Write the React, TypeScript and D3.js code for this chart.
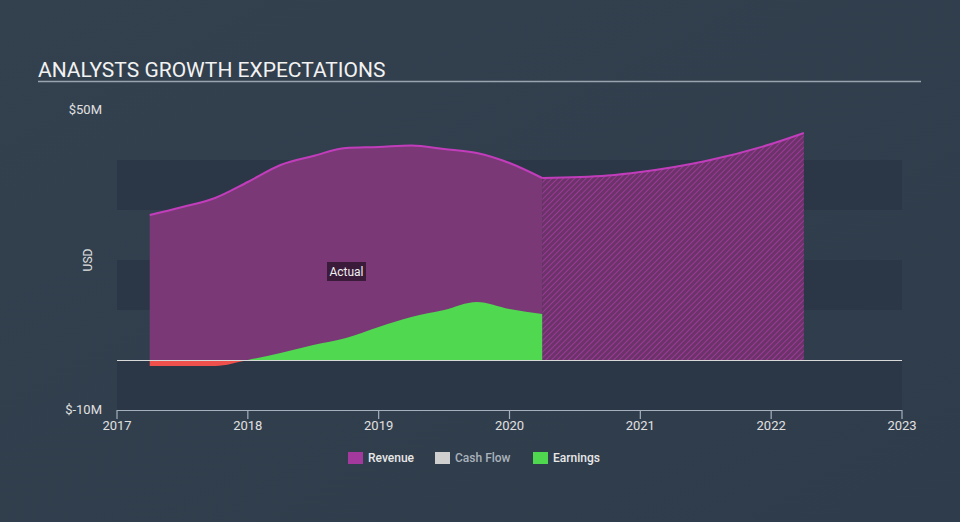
import React from "react";
import * as d3 from "d3";

const revenueYears = [2017.25, 2017.5, 2017.75, 2018, 2018.25, 2018.5, 2018.75, 2019, 2019.25, 2019.5, 2019.75, 2020, 2020.25];
const revenueValues = [29, 30.6, 32.4, 35.6, 39, 40.8, 42.4, 42.6, 42.9, 42.2, 41.4, 39.4, 36.4];
const forecastYears = [2020.25, 2020.75, 2021, 2021.5, 2022, 2022.25];
const forecastValues = [36.4, 36.9, 37.6, 39.8, 43.2, 45.4];
const earningsYears = [2017.25, 2017.5, 2017.75, 2018, 2018.25, 2018.5, 2018.75, 2019, 2019.25, 2019.5, 2019.75, 2020, 2020.25];
const earningsValues = [-1.2, -1.2, -1.2, 0, 1.4, 3, 4.4, 6.6, 8.6, 10, 11.6, 10.2, 9.2];
const xTicks = [2017, 2018, 2019, 2020, 2021, 2022, 2023];
const yTickLabels = [{ v: 50, t: "$50M" }, { v: -10, t: "$-10M" }];
const bands = [[40, 30], [20, 10], [0, -10]];
const legendItems = [
  { name: "Revenue", color: "#a3399d", text: "#e8e8e8" },
  { name: "Cash Flow", color: "#cfcfcf", text: "#aab2bb" },
  { name: "Earnings", color: "#4fd84f", text: "#e8e8e8" },
];

export default function App() {
  const W = 960, H = 522;
  const x = d3.scaleLinear().domain([2017, 2023]).range([117, 902]);
  const y = d3.scaleLinear().domain([-10, 50]).range([410, 110]);
  const curve = d3.curveMonotoneX;
  const rev = revenueYears.map((yr, i) => [yr, revenueValues[i]] as [number, number]);
  const fc = forecastYears.map((yr, i) => [yr, forecastValues[i]] as [number, number]);
  const earn = earningsYears.map((yr, i) => [yr, earningsValues[i]] as [number, number]);
  const area = d3.area<[number, number]>().x(d => x(d[0])).y0(y(0)).y1(d => y(d[1])).curve(curve);
  const line = d3.line<[number, number]>().x(d => x(d[0])).y(d => y(d[1])).curve(curve);
  const font = "Roboto, 'Open Sans', sans-serif";
  const legendX = [348, 435, 533];

  return (
    <svg width={W} height={H} style={{ position: "absolute", left: 0, top: 0 }} fontFamily={font}>
      <defs>
        <linearGradient id="bg" x1="0" y1="0" x2="1" y2="1">
          <stop offset="0" stopColor="#33414f" />
          <stop offset="1" stopColor="#2f3c4b" />
        </linearGradient>
        <pattern id="hatch" width="4" height="4" patternUnits="userSpaceOnUse" patternTransform="rotate(45)">
          <rect width="4" height="4" fill="#6b3369" />
          <line x1="0" y1="0" x2="0" y2="4" stroke="#a93aa3" strokeWidth="1.6" />
        </pattern>
        <clipPath id="above"><rect x={0} y={0} width={W} height={y(0)} /></clipPath>
        <clipPath id="below"><rect x={0} y={y(0)} width={W} height={H} /></clipPath>
      </defs>
      <rect width={W} height={H} fill="url(#bg)" />
      <text x={38} y={77} fontSize={21} fill="#f2f2f2">ANALYSTS GROWTH EXPECTATIONS</text>
      <line x1={38} x2={921} y1={81.5} y2={81.5} stroke="#9aa4ae" strokeWidth={1.5} />
      {bands.map(([a, b], i) => (
        <rect key={i} x={x(2017)} width={x(2023) - x(2017)} y={y(a)} height={y(b) - y(a)} fill="#2b3746" />
      ))}
      {yTickLabels.map(t => (
        <text key={t.t} x={102} y={y(t.v) + 4} textAnchor="end" fontSize={13} fill="#e0e0e0">{t.t}</text>
      ))}
      <text transform={`translate(92,${y(20)}) rotate(-90)`} textAnchor="middle" fontSize={12} fill="#e0e0e0">USD</text>
      <path d={area(rev) || ""} fill="#7b3877" />
      <path d={area(fc) || ""} fill="url(#hatch)" />
      <path d={line(rev) || ""} fill="none" stroke="#c23dbb" strokeWidth={2} />
      <path d={line(fc) || ""} fill="none" stroke="#c23dbb" strokeWidth={2} />
      <path d={area(earn) || ""} fill="#50d851" clipPath="url(#above)" />
      <path d={area(earn) || ""} fill="#f0504b" clipPath="url(#below)" />
      <line x1={x(2017)} x2={x(2023)} y1={y(0) + 0.5} y2={y(0) + 0.5} stroke="#d8d8d8" strokeWidth={1.2} />
      <rect x={327} y={262} width={39} height={19} fill="#3b1b3a" />
      <text x={346.5} y={276} textAnchor="middle" fontSize={12} fill="#f0f0f0">Actual</text>
      <line x1={x(2017)} x2={x(2023)} y1={410.5} y2={410.5} stroke="#a5b0bc" strokeWidth={1.2} />
      {xTicks.map(t => (
        <g key={t}>
          <line x1={x(t)} x2={x(t)} y1={410} y2={419} stroke="#a5b0bc" strokeWidth={1.2} />
          <text x={x(t)} y={430} textAnchor="middle" fontSize={13} fill="#e0e0e0">{t}</text>
        </g>
      ))}
      {legendItems.map((it, i) => (
        <g key={it.name}>
          <rect x={legendX[i]} y={452} width={15} height={12} fill={it.color} />
          <text x={legendX[i] + 20} y={462} fontSize={12} fontWeight={500} fill={it.text}>{it.name}</text>
        </g>
      ))}
    </svg>
  );
}
